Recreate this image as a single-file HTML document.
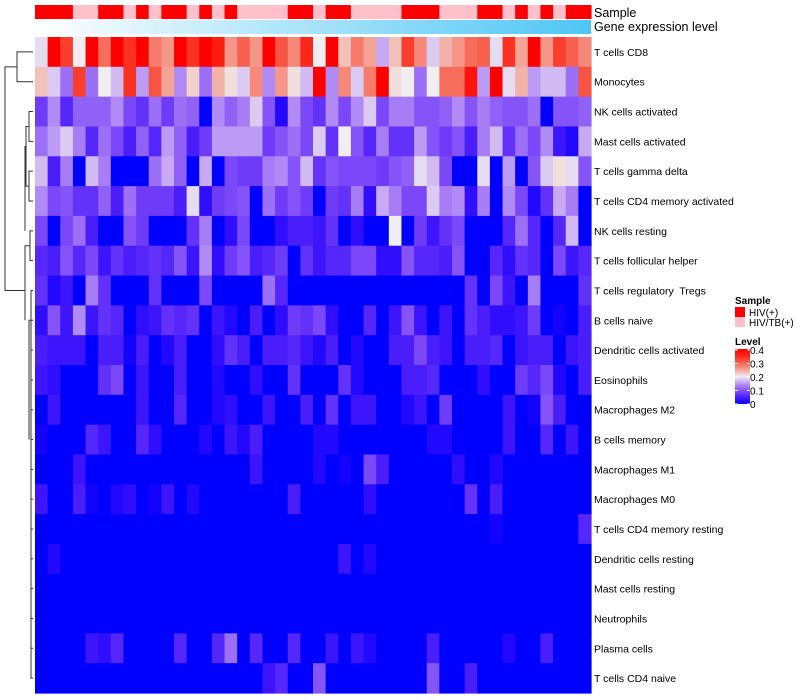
<!DOCTYPE html>
<html><head><meta charset="utf-8"><style>
body{margin:0;background:#fff;font-family:"Liberation Sans",sans-serif}
svg{display:block}
</style></head><body>
<svg id="chart" width="800" height="700" xmlns="http://www.w3.org/2000/svg"></svg>
<script>
const rowNames=["T cells CD8","Monocytes","NK cells activated","Mast cells activated","T cells gamma delta","T cells CD4 memory activated","NK cells resting","T cells follicular helper","T cells regulatory\u00a0 Tregs","B cells naive","Dendritic cells activated","Eosinophils","Macrophages M2","B cells memory","Macrophages M1","Macrophages M0","T cells CD4 memory resting","Dendritic cells resting","Mast cells resting","Neutrophils","Plasma cells","T cells CD4 naive"];
const sampleGroups="RRRPPRRPRPRRPRPRPPPPRRPRRPPPPRRRPPPRRPRPRPRR".split("");
const legendTicks=[0,0.1,0.2,0.3,0.4];
const r1=[.19,.4,.33,.2,.4,.29,.4,.34,.4,.28,.26,.4,.34,.4,.36,.26,.3,.26,.4,.31,.27,.35,.2,.4,.23,.28,.25,.16,.23,.33,.27,.18,.24,.26,.29,.3,.19,.34,.25,.4,.26,.33,.3,.27];
const r2=[.23,.18,.12,.33,.12,.2,.17,.34,.15,.31,.25,.14,.22,.12,.24,.21,.18,.27,.14,.26,.21,.17,.4,.14,.27,.18,.28,.4,.21,.2,.12,.2,.29,.29,.37,.15,.4,.19,.24,.15,.17,.17,.12,.31];
const r3=[.08,.14,.06,.11,.11,.11,.14,.09,.07,.12,.08,.12,.11,0,.14,.11,.13,.18,.1,.02,.14,.09,.07,.14,.09,.14,.18,.09,.13,.13,.1,.1,.11,.14,.1,.13,.11,.1,.1,.12,0,.1,.1,.11];
const r4=[.12,.15,.18,.13,.06,.12,.09,.05,.11,.06,.15,.11,.05,.08,.15,.15,.15,.15,.08,.1,.12,.09,.18,.07,.2,.1,.06,.13,.07,.07,.15,.1,.08,.1,.05,.13,.17,.07,.12,.09,.14,.04,.02,.16];
const r5=[.17,.05,.13,0,.17,.13,0,0,0,.12,.16,.11,0,.16,0,.09,.08,.08,.13,.14,.1,.17,.07,.1,.09,.09,.09,.08,.1,.11,.19,.17,.09,0,0,.19,0,.15,0,.1,.18,.21,.19,.1];
const r6=[.14,.09,.1,.07,.07,.11,.05,.12,.08,.08,.08,.05,.19,.03,.08,.09,.1,0,.12,.08,.1,.08,0,.08,.07,.13,.03,.16,.13,.09,.09,.18,.13,.14,.03,.13,0,.14,.09,.02,.07,.16,.13,0];
const r7=[.09,0,.09,.12,.05,0,0,.1,.08,0,0,0,.07,.13,0,.03,.09,0,0,.03,.05,.05,.04,.07,0,.03,0,0,.2,0,.08,.04,.07,.09,0,0,0,.06,.12,.06,0,.06,.17,0];
const r8=[.06,.05,.1,.06,.09,.04,.07,.05,.06,.07,.06,.1,.04,.14,.03,.08,.1,.05,.06,.08,0,.07,.04,.06,.06,.09,.09,.03,.03,.1,.06,.06,.05,.1,0,0,.06,.03,.07,.06,0,.09,.04,.06];
const r9=[.07,.02,.04,0,.13,.07,0,0,0,.07,0,0,0,.09,0,0,0,0,.12,.06,0,0,0,0,0,0,0,0,0,0,0,0,0,0,.07,0,.09,.04,0,.13,0,0,0,.07];
const r10=[.03,.1,.04,.14,.04,.07,.06,0,.03,.04,.07,.06,.07,0,.04,.02,0,.05,0,.03,.08,.07,.09,.03,0,0,.06,0,.04,.1,.04,0,.04,0,.07,.05,.03,.03,.04,.08,0,.01,0,.05];
const r11=[.05,.04,.04,.04,0,.05,.05,.01,.05,0,.02,.05,0,0,.03,.07,.05,0,.05,.05,.06,.04,.02,.05,0,.02,0,0,.05,.05,.09,.05,.04,0,.05,.05,.06,0,.04,.05,.05,0,.04,.05];
const r12=[.04,.03,0,0,0,.07,.09,0,.04,0,0,.05,0,0,.02,0,0,.03,0,0,.07,0,0,0,.07,.02,0,0,0,.05,.05,.06,0,0,0,.03,0,0,.08,.06,.09,.02,0,.05];
const r13=[0,.04,0,0,0,0,0,0,.04,0,0,.06,0,0,.02,.03,0,0,.04,0,0,.05,0,.07,0,.04,.04,0,0,.02,.04,0,.08,0,0,0,0,.04,0,.01,.1,.05,0,0];
const r14=[.01,0,0,0,.06,.04,0,0,.06,.03,0,0,0,.02,0,.04,.02,.05,0,0,0,0,.02,.02,0,0,0,0,0,0,0,.02,.02,0,0,0,0,.04,0,0,.06,0,.04,0];
const r15=[0,0,0,.04,0,0,0,0,0,0,0,0,0,0,0,0,0,.04,0,0,0,0,.02,0,.01,0,.09,.05,0,0,0,0,0,.03,0,0,.02,0,0,0,0,0,0,0];
const r16=[.04,0,0,.05,.01,0,.02,.03,0,.01,.04,0,.02,0,0,0,0,0,0,0,.05,0,0,0,0,0,.03,0,0,0,0,0,0,0,.07,0,.05,0,0,0,0,0,0,0];
const r17=[0,0,0,0,0,0,0,0,0,0,0,0,0,0,0,0,0,0,0,0,0,0,0,0,0,0,0,0,0,0,0,0,0,0,0,0,.01,0,0,0,0,0,0,.06];
const r18=[0,.02,0,0,0,0,0,0,0,0,0,0,0,0,0,0,0,0,0,0,0,0,0,0,.04,0,.02,0,0,0,0,0,0,0,0,0,0,0,0,0,0,0,0,0];
const r19=[0,0,0,0,0,0,0,0,0,0,0,0,0,0,0,0,0,0,0,0,0,0,0,0,0,0,0,0,0,0,0,0,0,0,0,0,0,0,0,0,0,0,0,0];
const r20=[0,0,0,0,0,0,0,0,0,0,0,0,0,0,0,0,0,0,0,0,0,0,0,0,0,0,0,0,0,0,0,0,0,0,0,0,0,0,0,0,0,0,0,0];
const r21=[0,0,0,0,.04,.03,.06,0,0,0,0,.06,0,0,.06,.12,0,.06,0,0,.06,0,0,.04,0,.04,.02,0,0,0,0,.05,0,0,0,0,0,.02,0,0,.05,0,0,0];
const r22=[0,0,0,0,0,0,0,0,0,0,0,0,0,0,0,0,0,0,.04,.06,0,0,.1,0,0,0,0,0,0,0,0,.1,0,0,.05,0,0,0,0,0,0,0,0,0];
const values=[r1,r2,r3,r4,r5,r6,r7,r8,r9,r10,r11,r12,r13,r14,r15,r16,r17,r18,r19,r20,r21,r22];

const NS="http://www.w3.org/2000/svg";
const svg=document.getElementById('chart');
function el(tag,attrs,parent){const e=document.createElementNS(NS,tag);for(const k in attrs)e.setAttribute(k,attrs[k]);(parent||svg).appendChild(e);return e;}
const X0=35,X1=591,Y0=37,Y1=693;
const nC=r1.length,nR=values.length;
const cw=(X1-X0)/nC,rh=(Y1-Y0)/nR;
const xs=i=>X0+i*cw, ys=j=>Y0+j*rh;
function color(v){
  v=Math.max(0,Math.min(0.4,v));
  let r,g,b;
  if(v<=0.2){const t=v/0.2;r=240*Math.pow(t,0.85);g=238*Math.pow(t,1.5);b=255-15*t;}
  else{const t=(v-0.2)/0.2;r=240+15*t;g=238*Math.pow(1-t,1.3);b=240*Math.pow(1-t,1.6);}
  return `rgb(${Math.round(r)},${Math.round(g)},${Math.round(b)})`;
}
const hg=el('g',{});


values.forEach((row,j)=>row.forEach((v,i)=>{
  const c=el('rect',{x:xs(i),y:ys(j),width:cw+0.6,height:rh+0.6,fill:color(v)},hg);
  
  
}));
sampleGroups.forEach((s,i)=>{
  const c=el('rect',{x:xs(i),y:5,width:cw+0.6,height:14,fill:s==='R'?'#ff0000':'#ffc0cb'});
  
  
});
const defs=el('defs',{});
const lg=el('linearGradient',{id:'gexp',x1:0,x2:1,y1:0,y2:0},defs);
el('stop',{offset:0,'stop-color':'#ffffff'},lg);
el('stop',{offset:1,'stop-color':'#4ec6f5'},lg);
const ge=el('rect',{x:X0,y:20,width:X1-X0,height:14,fill:'url(#gexp)'});


const t1=el('text',{x:594,y:17,'font-size':12.5,fill:'#000'});t1.textContent='Sample';


const t2=el('text',{x:594,y:31,'font-size':12.5,fill:'#000'});t2.textContent='Gene expression level';


rowNames.forEach((n,j)=>{
  const t=el('text',{x:594,y:ys(j)+rh/2+4,'font-size':10.5,fill:'#000'});
  t.textContent=n;
  
  
});
const dg=el('g',{stroke:'#333','stroke-width':1,fill:'none'});


const cy=j=>ys(j)+rh/2;
function seg(d){el('path',{d:d},dg);}
seg(`M33 ${cy(0)} H17 V${cy(1)} H33`);
seg(`M17 ${(cy(0)+cy(1))/2} H5 V${cy(8)} H25`);
seg(`M33 ${cy(2)} H29 V${cy(3)} H33`);
seg(`M33 ${cy(4)} H29 V${cy(5)} H33`);
seg(`M29 ${(cy(2)+cy(3))/2} H26 V${(cy(4)+cy(5))/2} H29`);
seg(`M33 ${cy(6)} H30 V${cy(7)} H33`);
seg(`M30 ${(cy(6)+cy(7))/2} H25 V${cy(9)}`);
seg(`M26 ${cy(3)+5} H25 V${cy(6)}`);
seg(`M33 ${cy(8)} H31 V${cy(21)} H33`);
for(let j=9;j<21;j++){seg(`M33 ${cy(j)} H31`);}
seg(`M31 ${cy(9)} H29 V${cy(13)}`);
const lgG=el('g',{});


const lt=el('text',{x:735,y:304,'font-size':10,'font-weight':'bold'},lgG);lt.textContent='Sample';
[['#ff0000','HIV(+)'],['#ffc0cb','HIV/TB(+)']].forEach((p,k)=>{
  const r=el('rect',{x:735,y:307+k*10,width:10,height:10,fill:p[0]},lgG);
  
  
  const t=el('text',{x:749,y:316+k*10,'font-size':10},lgG);t.textContent=p[1];
  
  
});
const lt2=el('text',{x:735,y:345,'font-size':10,'font-weight':'bold'},lgG);lt2.textContent='Level';
const cg=el('linearGradient',{id:'lvl',x1:0,x2:0,y1:1,y2:0},defs);
for(let k=0;k<=8;k++){el('stop',{offset:k/8,'stop-color':color(0.05*k)},cg);}
const bar=el('rect',{x:735,y:349,width:15,height:55,fill:'url(#lvl)'},lgG);


legendTicks.forEach(v=>{
  const y=404-v/0.4*54;
  el('line',{x1:735,x2:738,y1:y,y2:y,stroke:'#fff'},lgG);
  el('line',{x1:747,x2:750,y1:y,y2:y,stroke:'#fff'},lgG);
  const t=el('text',{x:750,y:y+4,'font-size':10},lgG);t.textContent=String(v);
  
  
});
</script>
</body></html>
